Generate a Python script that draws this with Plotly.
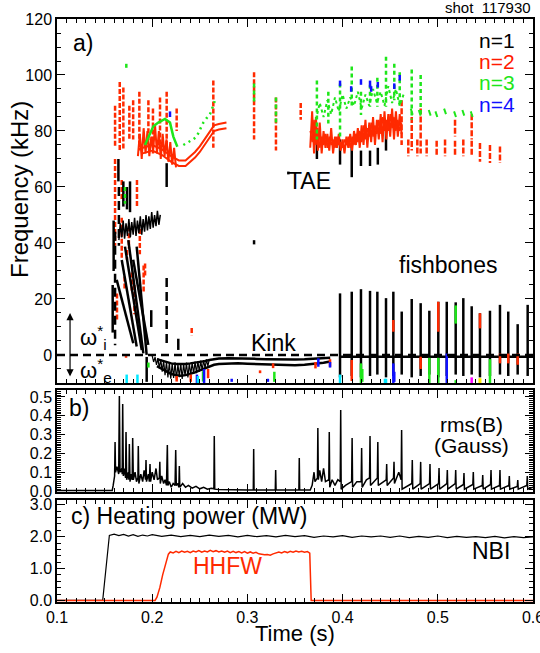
import plotly.graph_objects as go

# ---------------- Panel a: mode frequencies (kHz) vs time (s) ----------------
# n=1 (black) early downward chirps: start/end points
n1_chirp_t0 = [0.1627, 0.1680, 0.1714, 0.1749, 0.1800, 0.1837]
n1_chirp_f0 = [26.8, 33.9, 38.7, 41.0, 34.0, 38.7]
n1_chirp_t1 = [0.1801, 0.1837, 0.1890, 0.1907, 0.1959, 0.1942]
n1_chirp_f1 = [4.2, 3.0, 1.8, 0.6, 3.6, 0.0]
# n=1 short vertical strokes
n1_vert_t = [0.1585, 0.1595, 0.1645, 0.1697, 0.1735, 0.1767, 0.2152, 0.2274, 0.3070, 0.1942, 0.3430, 0.1990]
n1_vert_top = [25.0, 48.0, 70.0, 62.0, 60.0, 62.0, 68.5, 5.8, 41.0, -0.7, 65.5, 16.0]
n1_vert_bot = [8.0, 30.0, 62.0, 53.0, 52.0, 51.0, 60.0, 1.8, 39.5, -9.6, 64.5, 10.0]
# n=1 dashed vertical strokes
n1_dash_t = [0.2152, 0.1610, 0.1650]
n1_dash_top = [27.5, 44.0, 60.0]
n1_dash_bot = [2.9, 3.5, 39.0]
# n=1 cluster near 45 kHz
n1_cluster_t = [0.1650, 0.1665, 0.1680, 0.1695, 0.1710, 0.1725, 0.1740, 0.1755, 0.1770, 0.1785,
                0.1800, 0.1815, 0.1830, 0.1845, 0.1860, 0.1875, 0.1890, 0.1905, 0.1920, 0.1935,
                0.1950, 0.1965, 0.1980, 0.1995, 0.2010, 0.2025, 0.2040, 0.2055, 0.2070, 0.2085]
n1_cluster_f = [41, 47, 42, 48, 41.5, 47, 42.5, 48.5, 42, 47.5, 43, 49, 42.5, 48, 43.5, 49.5, 43, 48.5,
                44, 50, 44.5, 49.5, 45, 51, 45.5, 50, 46, 51.5, 46.5, 50]
# Kink (n=1) band below zero
kink_t = [0.205, 0.210, 0.215, 0.220, 0.225, 0.230, 0.235, 0.240, 0.245, 0.250, 0.255, 0.260, 0.265,
          0.270, 0.280, 0.290, 0.300, 0.310, 0.320, 0.330, 0.340, 0.350, 0.360, 0.370, 0.380, 0.387]
kink_hi = [-1.5, -2.0, -2.5, -3.0, -3.2, -3.3, -3.2, -3.0, -2.8, -2.5, -2.2, -1.8, -1.5, -1.3, -1.2,
           -1.2, -1.3, -1.4, -1.5, -1.6, -1.6, -1.6, -1.5, -1.4, -1.2, -1.0]
kink_lo = [-4.0, -5.0, -6.0, -6.8, -7.2, -7.4, -7.2, -6.8, -6.2, -5.5, -4.8, -4.0, -3.5, -3.2, -3.0,
           -3.0, -3.1, -3.2, -3.4, -3.6, -3.7, -3.7, -3.5, -3.2, -2.8, -2.3]
kink_noise_t = [0.2000, 0.2015, 0.2030, 0.2045, 0.2060, 0.2075, 0.2090, 0.2105, 0.2120, 0.2135, 0.2150,
                0.2165, 0.2180, 0.2195, 0.2210, 0.2225, 0.2240, 0.2255, 0.2270, 0.2285, 0.2300, 0.2315,
                0.2330, 0.2345, 0.2360, 0.2375, 0.2390, 0.2405, 0.2420, 0.2435, 0.2450, 0.2465, 0.2480,
                0.2495, 0.2510, 0.2525, 0.2540, 0.2555, 0.2570, 0.2585, 0.2600]
kink_noise_f = [-0.3, -2.5, -0.8, -3.5, -1.2, -4.8, -1.5, -6.0, -2.0, -7.2, -2.4, -8.0, -2.8, -8.5,
                -3.0, -8.2, -2.6, -8.8, -3.2, -7.9, -2.9, -8.6, -3.1, -7.5, -2.7, -8.0, -3.0, -7.2,
                -2.5, -6.8, -2.4, -6.5, -2.2, -6.0, -2.0, -5.5, -1.8, -4.8, -1.6, -4.0, -1.5]
# Fishbones (n=1) after 0.39 s
fb_t = [0.3973, 0.4096, 0.4193, 0.4288, 0.4365, 0.4456, 0.4533, 0.4621, 0.4726, 0.4820, 0.4911,
        0.5005, 0.5094, 0.5188, 0.5268, 0.5356, 0.5443, 0.5548, 0.5653, 0.5740, 0.5839, 0.5944]
fb_top = [22.0, 22.6, 23.5, 22.9, 22.6, 20.3, 22.6, 15.5, 20.0, 18.5, 15.8, 19.0, 19.0, 18.8, 20.3,
          17.4, 14.9, 15.8, 17.9, 15.5, 11.0, 17.9]
fb_bot = [-8.0, -7.5, -8.0, -7.5, -7.0, -8.0, -7.5, -7.0, -8.0, -7.5, -7.0, -8.0, -7.5, -7.0, -7.5,
          -7.0, -8.0, -7.5, -7.0, -7.5, -7.0, -7.5]
fb_base_t = [0.3973, 0.600]
fb_base_f = [-0.6, -0.6]
# n=1 strokes below the late TAEs
n1_late_t = [0.3730, 0.3973, 0.4096, 0.4193, 0.4288, 0.4370, 0.4456]
n1_late_top = [76.0, 77.0, 74.0, 73.0, 73.0, 74.0, 80.0]
n1_late_bot = [70.0, 68.0, 63.5, 67.5, 67.5, 68.0, 73.0]

# n=2 (red) dashed verticals in the TAE range
n2_vdash_t = [0.1610, 0.1659, 0.1697, 0.1760, 0.1800, 0.1865, 0.1960, 0.2008, 0.2082, 0.2152,
              0.2257, 0.2642, 0.3070, 0.3300, 0.3560]
n2_vdash_top = [89, 97.5, 95.5, 89, 91, 94, 91, 88, 92, 94, 88, 98, 101, 92, 90]
n2_vdash_bot = [74, 73, 73, 77, 77, 73, 76, 72, 75, 73, 80, 74, 77, 73, 84]
# n=2 verticals at lower frequency
n2_low_t = [0.1610, 0.1680, 0.1680, 0.1710, 0.1755, 0.1785, 0.1840, 0.1813, 0.1910, 0.1925, 0.2415,
            0.1735, 0.1630, 0.1870]
n2_low_top = [70.0, 62.5, 49.0, 28.0, 46.0, 29.5, 62.5, 25.0, 32.0, 32.7, 9.6, 37.5, 22.0, 45.0]
n2_low_bot = [39.0, 55.0, 34.0, 23.0, 38.0, 23.0, 53.0, 14.5, 22.0, 27.9, 7.0, 34.0, 12.0, 36.0]
# n=2 TAE cluster and chirp curve
n2_tae_t = [0.185, 0.187, 0.189, 0.191, 0.193, 0.195, 0.197, 0.199, 0.201, 0.203, 0.205, 0.207, 0.209,
            0.211, 0.213, 0.215, 0.217, 0.219, 0.221, 0.223, 0.225]
n2_tae_f = [71, 79, 70, 81, 72, 80, 71, 78, 73, 82, 72, 80, 70, 79, 71, 77, 69, 76, 68, 74, 67]
n2_curve_t = [0.190, 0.200, 0.210, 0.220, 0.228, 0.235, 0.240, 0.245, 0.250, 0.255, 0.260, 0.265, 0.270, 0.278]
n2_curve_f = [72.0, 73.0, 71.5, 69.0, 67.5, 67.5, 69.0, 70.5, 72.5, 75.0, 77.5, 80.0, 80.5, 81.0]
n2_curve2_f = [74.0, 75.0, 73.5, 71.0, 69.5, 69.5, 71.0, 72.5, 74.5, 77.0, 79.5, 82.0, 82.5, 83.0]
# n=2 late TAE band (two interleaved traces)
n2_late_t = [0.366, 0.368, 0.370, 0.372, 0.374, 0.376, 0.378, 0.380, 0.382, 0.384, 0.386, 0.388, 0.390,
             0.392, 0.394, 0.396, 0.398, 0.400, 0.402, 0.404, 0.406, 0.408, 0.410, 0.412, 0.414, 0.416,
             0.418, 0.420, 0.422, 0.424, 0.426, 0.428, 0.430, 0.432, 0.434, 0.436, 0.438, 0.440, 0.442,
             0.444, 0.446, 0.448, 0.450, 0.452, 0.454, 0.456, 0.458, 0.460, 0.462]
n2_late_f = [74, 87, 72, 85, 73, 83, 72, 80, 74, 79, 73, 81, 72, 78, 74, 79, 73, 77, 72, 78, 74, 79, 73,
             80, 75, 81, 74, 82, 75, 84, 74, 83, 76, 85, 75, 84, 77, 86, 76, 87, 77, 86, 78, 88, 77, 87,
             78, 86, 79]
n2_late2_f = [80, 76, 84, 75, 81, 74, 78, 75, 79, 74, 78, 75, 77, 74, 78, 75, 76, 74, 77, 75, 78, 74,
              78, 75, 79, 76, 80, 76, 82, 77, 81, 78, 83, 78, 82, 79, 84, 79, 85, 80, 84, 80, 86, 81,
              85, 80, 84, 80, 83]
# n=2 late short verticals
n2_tick_t = [0.4620, 0.4690, 0.4726, 0.4785, 0.4820, 0.4883, 0.4988, 0.5076, 0.5181, 0.5181, 0.5268,
             0.5356, 0.5356, 0.5443, 0.5548, 0.5653]
n2_tick_top = [91.0, 77.0, 85.0, 77.0, 88.0, 77.0, 76.5, 77.0, 76.5, 84.0, 77.0, 76.5, 86.0, 75.7, 75.0, 74.5]
n2_tick_bot = [75.0, 71.0, 73.0, 71.0, 72.0, 71.0, 71.0, 71.0, 71.0, 78.0, 71.0, 71.0, 77.0, 69.0, 68.6, 68.6]

# n=3 (green)
n3_curve_t = [0.1924, 0.2012, 0.2064, 0.2134, 0.2187, 0.2222, 0.2264]
n3_curve_f = [75.0, 81.7, 83.0, 84.3, 83.0, 78.0, 74.4]
n3_dots_t = [0.2327, 0.2360, 0.2397, 0.2430, 0.2467, 0.2500, 0.2537, 0.2570, 0.2607, 0.2635, 0.2660]
n3_dots_f = [75.0, 75.6, 76.3, 77.0, 78.0, 80.5, 83.0, 84.5, 86.0, 88.5, 91.0]
n3_vert_t = [0.1728, 0.1714, 0.3070, 0.3300, 0.3730, 0.3850, 0.3973, 0.4096, 0.4193, 0.4288, 0.4365,
             0.4456, 0.4543, 0.4600, 0.4726, 0.4820]
n3_vert_top = [104.0, 60.0, 97.0, 92.0, 98.0, 94.0, 97.0, 103.0, 94.0, 96.5, 99.0, 106.5, 104.0, 101.0,
               102.0, 100.0]
n3_vert_bot = [102.5, 54.0, 90.0, 83.0, 77.0, 82.7, 77.0, 88.7, 85.7, 88.7, 88.7, 88.7, 91.0, 88.7,
               84.0, 86.0]
n3_late_t = [0.372, 0.376, 0.380, 0.384, 0.388, 0.392, 0.396, 0.400, 0.404, 0.408, 0.412, 0.416, 0.420,
             0.424, 0.428, 0.432, 0.436, 0.440, 0.444, 0.448, 0.452, 0.456, 0.460, 0.464]
n3_late_f = [84, 90, 85, 91, 86, 92, 87, 93, 88, 92, 89, 94, 88, 93, 89, 95, 90, 94, 89, 96, 90, 95, 89, 93]
n3_tail_t0 = [0.4716, 0.4800, 0.4905, 0.4975, 0.5066, 0.5171, 0.5258, 0.5346]
n3_tail_f0 = [88.0, 87.5, 87.5, 87.0, 88.0, 87.0, 87.5, 87.0]
n3_tail_t1 = [0.4736, 0.4820, 0.4925, 0.4995, 0.5086, 0.5191, 0.5278, 0.5366]
n3_tail_f1 = [85.8, 85.5, 85.5, 85.0, 86.0, 85.0, 85.5, 85.0]

# n=4 (blue)
n4_t = [0.2187, 0.3973, 0.4090, 0.4193, 0.4288, 0.4300, 0.4370, 0.4543, 0.4600]
n4_top = [87.0, 98.0, 96.0, 98.5, 98.0, 96.0, 97.5, 97.0, 100.0]
n4_bot = [85.0, 96.0, 94.0, 96.5, 95.5, 94.0, 95.5, 95.0, 98.0]

# colour pieces on fishbones
fb_red_t = [0.4533, 0.5005, 0.5443]
fb_red_top = [12.5, 19.0, 14.9]
fb_red_bot = [8.3, 8.3, 9.5]
fb_green_t = [0.5188]
fb_green_top = [17.7]
fb_green_bot = [11.2]

# small coloured marks below zero
low_red_t = [0.2257, 0.2405, 0.2587, 0.3133, 0.3270, 0.3715, 0.3868, 0.4096, 0.4820, 0.5653, 0.5740,
             0.5839, 0.1725]
low_red_top = [-7.5, -7.0, -5.0, -5.5, -3.0, -2.5, -1.5, -1.8, -0.6, 0.5, 0.5, 0.5, -0.4]
low_red_bot = [-9.5, -9.6, -8.3, -6.5, -4.7, -4.8, -4.2, -9.3, -5.0, -3.0, -3.0, -3.5, -1.0]
low_green_t = [0.1960, 0.2534, 0.3283, 0.4193, 0.4207, 0.4911, 0.5005, 0.5188, 0.5548]
low_green_top = [-2.7, -5.8, -6.0, -3.0, -5.0, -1.0, -1.0, -9.0, -1.5]
low_green_bot = [-4.5, -9.5, -9.6, -10.0, -9.6, -10.0, -10.0, -10.0, -10.0]
low_blue_t = [0.2470, 0.2545, 0.2835, 0.3215, 0.3745, 0.3868, 0.4533, 0.4543, 0.5094]
low_blue_top = [-7.0, -5.0, -8.5, -8.5, -1.2, -2.5, -3.0, -6.0, 0.5]
low_blue_bot = [-10.0, -10.0, -9.6, -9.6, -4.2, -4.5, -10.0, -9.6, -10.0]
low_cyan_t = [0.1732, 0.1845, 0.2480, 0.3973, 0.4445, 0.4456]
low_cyan_top = [-7.0, -7.0, -7.5, -7.0, -8.5, -8.5]
low_cyan_bot = [-10.0, -10.0, -10.0, -10.0, -10.0, -10.0]
low_mag_t = [0.5356]
low_mag_top = [-8.0]
low_mag_bot = [-10.0]
low_yel_t = [0.5443]
low_yel_top = [-8.3]
low_yel_bot = [-10.0]

# ---------------- Panel b: rms(B) in Gauss ----------------
rms_t = [0.100, 0.158, 0.159, 0.1605, 0.161, 0.1615, 0.163, 0.1648, 0.1655, 0.1662, 0.168, 0.1685,
         0.169, 0.1697, 0.171, 0.172, 0.1725, 0.1732, 0.175, 0.1755, 0.176, 0.1767, 0.178, 0.179,
         0.1795, 0.1802, 0.182, 0.1835, 0.185, 0.1854, 0.186, 0.188, 0.190, 0.1915, 0.193, 0.1935,
         0.194, 0.196, 0.197, 0.1977, 0.1983, 0.200, 0.202, 0.204, 0.2055, 0.2075, 0.208, 0.2085,
         0.210, 0.212, 0.2135, 0.215, 0.2159, 0.2165, 0.218, 0.220, 0.222, 0.224, 0.2247, 0.2253,
         0.227, 0.228, 0.2285, 0.229, 0.232, 0.235, 0.238, 0.242, 0.246, 0.250, 0.254, 0.258, 0.262,
         0.2648, 0.2652, 0.2657, 0.270, 0.280, 0.290, 0.300, 0.3062, 0.3066, 0.3070, 0.315, 0.3293,
         0.3297, 0.3301, 0.340, 0.3541, 0.3545, 0.3549, 0.366, 0.368, 0.370, 0.371, 0.3736, 0.374,
         0.3745, 0.376, 0.378, 0.380, 0.382, 0.3855, 0.386, 0.3865, 0.389, 0.392, 0.395, 0.3975,
         0.398, 0.3985, 0.403, 0.4095, 0.410, 0.4105, 0.415, 0.4195, 0.420, 0.4205, 0.425, 0.4283,
         0.4288, 0.4293, 0.4365, 0.437, 0.4375, 0.4458, 0.4463, 0.4468, 0.4535, 0.454, 0.4545, 0.459,
         0.4615, 0.462, 0.4625, 0.4727, 0.4732, 0.4737, 0.4815, 0.482, 0.4825, 0.4913, 0.4918, 0.4923,
         0.5008, 0.5013, 0.5018, 0.5095, 0.510, 0.5105, 0.5183, 0.5188, 0.5193, 0.527, 0.5275, 0.528,
         0.5368, 0.5373, 0.5378, 0.5467, 0.5472, 0.5477, 0.5554, 0.5559, 0.5564, 0.5648, 0.5653,
         0.5658, 0.5746, 0.5751, 0.5756, 0.5835, 0.584, 0.5845, 0.5935, 0.594, 0.5945, 0.600]
rms_v = [0.003, 0.003, 0.03, 0.08, 0.26, 0.10, 0.13, 0.09, 0.505, 0.10, 0.12, 0.09,
         0.463, 0.08, 0.12, 0.07, 0.314, 0.06, 0.10, 0.06, 0.25, 0.05, 0.09, 0.06,
         0.282, 0.06, 0.10, 0.05, 0.07, 0.24, 0.04, 0.09, 0.05, 0.11, 0.06, 0.165,
         0.05, 0.09, 0.05, 0.144, 0.05, 0.10, 0.06, 0.12, 0.06, 0.07, 0.155, 0.04,
         0.08, 0.04, 0.06, 0.03, 0.245, 0.03, 0.05, 0.02, 0.04, 0.03, 0.218, 0.03,
         0.04, 0.02, 0.133, 0.02, 0.04, 0.02, 0.03, 0.015, 0.025, 0.012, 0.02, 0.01, 0.015,
         0.012, 0.293, 0.01, 0.008, 0.006, 0.007, 0.005, 0.006, 0.224, 0.006, 0.005, 0.005,
         0.112, 0.005, 0.005, 0.005, 0.176, 0.005, 0.006, 0.03, 0.10, 0.05, 0.07, 0.335,
         0.06, 0.11, 0.05, 0.12, 0.05, 0.06, 0.314, 0.02, 0.06, 0.03, 0.06, 0.05,
         0.431, 0.01, 0.03, 0.05, 0.282, 0.02, 0.05, 0.05, 0.229, 0.02, 0.06, 0.07,
         0.293, 0.03, 0.07, 0.261, 0.03, 0.06, 0.144, 0.03, 0.07, 0.155, 0.04, 0.10,
         0.06, 0.325, 0.01, 0.04, 0.165, 0.01, 0.04, 0.155, 0.01, 0.04, 0.144, 0.01,
         0.04, 0.123, 0.01, 0.04, 0.112, 0.01, 0.04, 0.112, 0.01, 0.035, 0.096, 0.01,
         0.035, 0.101, 0.01, 0.03, 0.085, 0.01, 0.035, 0.112, 0.01, 0.03, 0.112,
         0.01, 0.03, 0.08, 0.01, 0.025, 0.059, 0.01, 0.03, 0.08, 0.01, 0.02]

# ---------------- Panel c: heating power (MW) ----------------
nbi_t = [0.100, 0.148, 0.155, 0.160, 0.165, 0.170, 0.175, 0.180, 0.185, 0.190, 0.195, 0.200, 0.210,
         0.220, 0.230, 0.240, 0.250, 0.260, 0.270, 0.280, 0.290, 0.300, 0.310, 0.320, 0.330, 0.340,
         0.350, 0.360, 0.370, 0.380, 0.390, 0.400, 0.410, 0.420, 0.430, 0.440, 0.450, 0.460, 0.470,
         0.480, 0.490, 0.500, 0.510, 0.520, 0.530, 0.540, 0.550, 0.560, 0.570, 0.580, 0.590, 0.600]
nbi_p = [0.0, 0.0, 2.04, 2.08, 2.03, 2.07, 2.02, 2.06, 2.01, 2.05, 2.02, 2.06, 2.01, 2.05, 2.00, 2.04,
         2.00, 2.05, 2.01, 2.04, 1.99, 2.04, 2.00, 2.03, 1.99, 2.04, 2.00, 2.03, 1.98, 2.02, 1.99, 2.03,
         1.98, 2.02, 1.99, 2.02, 1.98, 2.02, 1.97, 2.01, 1.98, 2.02, 1.97, 2.01, 1.98, 2.00, 1.97, 2.01,
         1.96, 2.00, 1.97, 1.99]
hhfw_t = [0.100, 0.203, 0.205, 0.208, 0.211, 0.214, 0.217, 0.219, 0.222, 0.225, 0.228, 0.231, 0.234,
          0.237, 0.240, 0.243, 0.246, 0.249, 0.252, 0.255, 0.258, 0.261, 0.264, 0.267, 0.270, 0.273,
          0.276, 0.279, 0.282, 0.285, 0.288, 0.291, 0.294, 0.297, 0.300, 0.303, 0.306, 0.309, 0.312,
          0.315, 0.318, 0.321, 0.324, 0.327, 0.330, 0.333, 0.336, 0.339, 0.342, 0.345, 0.348, 0.351,
          0.354, 0.357, 0.360, 0.363, 0.3655, 0.3670, 0.600]
hhfw_p = [0.0, 0.0, 0.10, 0.40, 0.80, 1.15, 1.45, 1.52, 1.49, 1.54, 1.50, 1.55, 1.51, 1.54, 1.50, 1.55,
          1.52, 1.56, 1.51, 1.55, 1.52, 1.57, 1.53, 1.56, 1.52, 1.55, 1.51, 1.55, 1.50, 1.54, 1.50, 1.53,
          1.49, 1.53, 1.48, 1.52, 1.48, 1.51, 1.46, 1.45, 1.43, 1.44, 1.42, 1.46, 1.48, 1.52, 1.49, 1.53,
          1.50, 1.54, 1.51, 1.55, 1.52, 1.54, 1.51, 1.53, 1.48, 0.0, 0.0]

# tick values
time_ticks = [0.1, 0.2, 0.3, 0.4, 0.5, 0.6]

# ---------------- styling ----------------
FONT = "Liberation Sans, Arial, Helvetica, sans-serif"
RED = "#ff2a00"
GREEN = "#1ee61a"
BLUE = "#1010ff"
CYAN = "#00e8ff"
MAGENTA = "#ff00ff"
YELLOW = "#ffee00"
BLACK = "#000000"

fig = go.Figure()


def segs(t0, f0, t1, f1):
    xs, ys = [], []
    for a, b, c, d in zip(t0, f0, t1, f1):
        xs += [a, c, None]
        ys += [b, d, None]
    return xs, ys


def verts(t, top, bot):
    return segs(t, top, t, bot)


def add(xs, ys, color, width, dash="solid", panel=1):
    sx = "" if panel == 1 else str(panel)
    fig.add_trace(go.Scatter(x=xs, y=ys, mode="lines",
                             line=dict(color=color, width=width, dash=dash),
                             xaxis="x" + sx, yaxis="y" + sx,
                             hoverinfo="skip", showlegend=False))


# panel a traces
add(*verts(n2_low_t, n2_low_top, n2_low_bot), RED, 2.5, "5px,2px")
add(*segs(n1_chirp_t0, n1_chirp_f0, n1_chirp_t1, n1_chirp_f1), BLACK, 2.5)
add(*verts(n1_vert_t, n1_vert_top, n1_vert_bot), BLACK, 2.5)
add(*verts(n1_dash_t, n1_dash_top, n1_dash_bot), BLACK, 2.5, "9px,5px")
add(n1_cluster_t, n1_cluster_f, BLACK, 1.5)
add(kink_t, kink_hi, BLACK, 2.5)
add(kink_t, kink_lo, BLACK, 2.5)
add(kink_noise_t, kink_noise_f, BLACK, 1.2)
add(*verts(fb_t, fb_top, fb_bot), BLACK, 2.5)
add(fb_base_t, fb_base_f, BLACK, 2.5)
add(*verts(n1_late_t, n1_late_top, n1_late_bot), BLACK, 2.5)
add(*verts(n2_vdash_t, n2_vdash_top, n2_vdash_bot), RED, 2.5, "5px,2px")
add(n2_tae_t, n2_tae_f, RED, 2)
add(n2_curve_t, n2_curve_f, RED, 2)
add(n2_curve_t, n2_curve2_f, RED, 2)
add(n2_late_t, n2_late_f, RED, 2)
add(n2_late_t, n2_late2_f, RED, 1.5)
add(*verts(n2_tick_t, n2_tick_top, n2_tick_bot), RED, 2.5, "6px,2px")
add(n3_curve_t, n3_curve_f, GREEN, 2.5)
add(n3_dots_t, n3_dots_f, GREEN, 2.5, "2px,4px")
add(*verts(n3_vert_t, n3_vert_top, n3_vert_bot), GREEN, 2.5, "4px,3px")
add(n3_late_t, n3_late_f, GREEN, 2, "3px,3px")
add(*segs(n3_tail_t0, n3_tail_f0, n3_tail_t1, n3_tail_f1), GREEN, 2)
add(*verts(n4_t, n4_top, n4_bot), BLUE, 2.5)
add(*verts(fb_red_t, fb_red_top, fb_red_bot), RED, 2.5)
add(*verts(fb_green_t, fb_green_top, fb_green_bot), GREEN, 2.5)
add(*verts(low_red_t, low_red_top, low_red_bot), RED, 2.5)
add(*verts(low_green_t, low_green_top, low_green_bot), GREEN, 2.5)
add(*verts(low_blue_t, low_blue_top, low_blue_bot), BLUE, 2.5)
add(*verts(low_cyan_t, low_cyan_top, low_cyan_bot), CYAN, 2.5)
add(*verts(low_mag_t, low_mag_top, low_mag_bot), MAGENTA, 2.5)
add(*verts(low_yel_t, low_yel_top, low_yel_bot), YELLOW, 3)

# panel b
add(rms_t, rms_v, BLACK, 1.5, panel=2)
# panel c
add(nbi_t, nbi_p, BLACK, 1.2, panel=3)
add(hhfw_t, hhfw_p, RED, 1.5, panel=3)

axis_common = dict(showline=True, linecolor=BLACK, linewidth=1.5, mirror="allticks",
                   ticks="inside", tickcolor=BLACK, ticklen=8, tickwidth=1,
                   showgrid=False, zeroline=False, automargin=False, ticklabeloverflow="allow",
                   tickfont=dict(family=FONT, size=16, color=BLACK))
x_common = dict(axis_common, range=[0.1, 0.6], tickmode="array", tickvals=time_ticks,
                minor=dict(ticks="inside", ticklen=4, dtick=0.01, tick0=0.1, tickcolor=BLACK,
                           showgrid=False))

fig.update_layout(
    width=540, height=653,
    margin=dict(l=57, r=7, t=19, b=51, autoexpand=False),
    paper_bgcolor="white", plot_bgcolor="white",
    font=dict(family=FONT, size=16, color=BLACK),
    xaxis=dict(x_common, anchor="y", showticklabels=False),
    xaxis2=dict(x_common, anchor="y2", matches="x", showticklabels=False),
    xaxis3=dict(x_common, anchor="y3", matches="x", showticklabels=True, tickformat=".1f"),
    yaxis=dict(axis_common, domain=[0.3757, 1.0], range=[-10, 120], tick0=0, dtick=20,
               minor=dict(ticks="inside", ticklen=4, dtick=5, tickcolor=BLACK, showgrid=False)),
    yaxis2=dict(axis_common, domain=[0.1887, 0.3636], range=[-0.005, 0.537], tick0=0, dtick=0.1,
                tickformat=".1f",
                minor=dict(ticks="inside", ticklen=4, dtick=0.01, tickcolor=BLACK, showgrid=False)),
    yaxis3=dict(axis_common, domain=[0.0, 0.175], range=[-0.05, 3.15], tick0=0, dtick=1,
                tickformat=".1f",
                minor=dict(ticks="inside", ticklen=4, dtick=0.2, tickcolor=BLACK, showgrid=False)),
)

fig.add_shape(type="line", xref="x domain", yref="y", x0=0, x1=1, y0=0, y1=0,
              line=dict(color=BLACK, width=2.5, dash="8px,5px"), layer="above")

ann = []


def txt(x, y, s, size=21, color=BLACK, xref="x", yref="y", xanchor="center", yanchor="middle", angle=0):
    ann.append(dict(x=x, y=y, text=s, xref=xref, yref=yref, showarrow=False, xanchor=xanchor,
                    yanchor=yanchor, textangle=angle, font=dict(family=FONT, size=size, color=color)))


txt(0.1147, 111.4, "a)", size=23, xanchor="left")
txt(0.583, 112.5, "n=1", color=BLACK, xanchor="right")
txt(0.583, 105.0, "n=2", color="#ff1a00", xanchor="right")
txt(0.583, 97.3, "n=3", color=GREEN, xanchor="right")
txt(0.583, 89.6, "n=4", color=BLUE, xanchor="right")
txt(0.365, 62.0, "TAE", size=23)
txt(0.5107, 32.0, "fishbones", size=23)
txt(0.327, 4.3, "Kink", size=23)
txt(0.1221, 6.4, "ω<sup>*</sup><sub>i</sub>", size=22, xanchor="left")
txt(0.1221, -5.5, "ω<sup>*</sup><sub>e</sub>", size=22, xanchor="left")
txt(0.1105, 0.44, "b)", size=23, xref="x2", yref="y2", xanchor="left")
txt(0.535, 0.352, "rms(B)", size=21, xref="x2", yref="y2")
txt(0.535, 0.243, "(Gauss)", size=21, xref="x2", yref="y2")
txt(0.1126, 2.65, "c) Heating power (MW)", size=23, xref="x3", yref="y3", xanchor="left")
txt(0.5554, 1.55, "NBI", size=23, xref="x3", yref="y3")
txt(0.279, 1.08, "HHFW", size=23, color=RED, xref="x3", yref="y3")
txt(1.0, 1.019, "shot  117930", size=15, xref="paper", yref="paper", xanchor="right")
txt(-0.0777, 0.7067, "Frequency (kHz)", size=24, xref="paper", yref="paper", angle=-90)
txt(0.5, -0.054, "Time (s)", size=22, xref="paper", yref="paper")

ann.append(dict(x=0.1137, y=15.0, ax=0.1137, ay=-8.2, xref="x", yref="y", axref="x", ayref="y",
                text="", showarrow=True, arrowhead=2, arrowside="end+start", arrowsize=1.2,
                arrowwidth=1.2, arrowcolor=BLACK))

fig.update_layout(annotations=ann)
fig.write_html("out.html", config={"displayModeBar": False},
               post_script="document.body.style.margin='0';document.body.style.overflow='hidden';")
